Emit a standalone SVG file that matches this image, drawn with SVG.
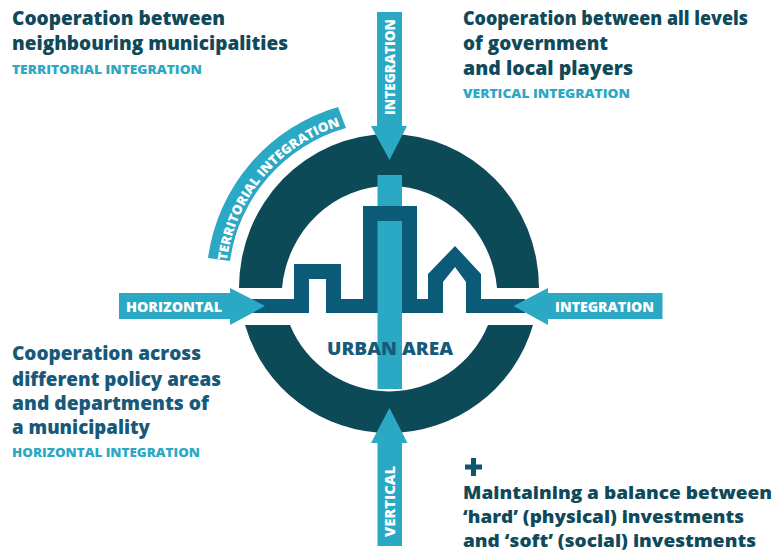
<svg xmlns="http://www.w3.org/2000/svg" width="772" height="552" viewBox="0 0 772 552">
<style>
.h{font-family:"Open Sans","Liberation Sans",sans-serif;font-weight:800;font-size:19px;fill:#0f4a5a}
.b{fill:#17597a}
.s{font-size:17.500px}
.t{font-family:"Open Sans","Liberation Sans",sans-serif;font-weight:800;font-size:12px;fill:#2aa8c4}
.w{font-family:"Open Sans","Liberation Sans",sans-serif;font-weight:800;font-size:14px;fill:#fff}
.arc{fill:#0d4a57}
.light{fill:#2aa8c4}
</style>
<defs>
<path id="curve" d="M226.500 263.500A164 164 0 0 1 343 125"/>
</defs>
<rect width="772" height="552" fill="#fff"/>
<g id="ring">
<path class="arc" d="M239 288A150 154 0 0 1 539 288L497 288A108 113 0 0 0 282 288Z"/>
<path class="arc" d="M245 325L290 325A107 107 0 0 0 488 325L533 325A150 150 0 0 1 245 325Z"/>
</g>
<g id="city">
<rect class="light" x="377.500" y="175" width="24.500" height="50"/>
<path fill="#0b5a78" d="M250 299H294V264H341V299H363V206H417V299H428V274L455 246L481 274V299H525V313H466V282L455 267L443 282V313H326V279H309V313H250Z"/>
<rect class="light" x="377.500" y="221" width="24.500" height="168"/>
<text x="390" y="355" text-anchor="middle" textLength="126" lengthAdjust="spacingAndGlyphs" style="font-family:'Open Sans','Liberation Sans',sans-serif;font-weight:800;font-size:18px;fill:#17597a">URBAN AREA</text>
</g>
<g id="territorial-band">
<path class="light" d="M208 258A183 183 0 0 1 338 107L346 128A161 161 0 0 0 230 261Z"/>
<text class="w" style="font-size:13px"><textPath href="#curve" startOffset="50%" text-anchor="middle" textLength="186" lengthAdjust="spacingAndGlyphs">TERRITORIAL INTEGRATION</textPath></text>
</g>
<g id="connectors">
<path id="arrow-top" class="light" d="M377 12H402V126H407L389.500 160L371 126H377Z"/>
<path id="arrow-bottom" class="light" d="M377.500 546H402V443H407.500L389.500 408L371 443H377.500Z"/>
<path id="arrow-left" class="light" d="M119 293H230V288L265 306L230 325V319H119Z"/>
<path id="arrow-right" class="light" d="M662.500 293H548V288L513.500 306L548 325V319H662.500Z"/>
</g>
<g id="arrow-labels">
<text class="w" x="126" y="312" textLength="96" lengthAdjust="spacingAndGlyphs">HORIZONTAL</text>
<text class="w" x="555" y="312" textLength="99" lengthAdjust="spacingAndGlyphs">INTEGRATION</text>
<text class="w" transform="translate(394.500 115) rotate(-90)" textLength="96" lengthAdjust="spacingAndGlyphs">INTEGRATION</text>
<text class="w" transform="translate(394.500 537) rotate(-90)" textLength="71" lengthAdjust="spacingAndGlyphs">VERTICAL</text>
</g>
<g id="territorial-text">
<text class="h" x="12" y="25" textLength="213" lengthAdjust="spacingAndGlyphs">Cooperation between</text>
<text class="h" x="12" y="50" textLength="276" lengthAdjust="spacingAndGlyphs">neighbouring municipalities</text>
<text class="t" x="12" y="74" textLength="190" lengthAdjust="spacingAndGlyphs">TERRITORIAL INTEGRATION</text>
</g>
<g id="vertical-text">
<text class="h" x="463" y="25" textLength="285" lengthAdjust="spacingAndGlyphs">Cooperation between all levels</text>
<text class="h" x="463" y="50" textLength="145" lengthAdjust="spacingAndGlyphs">of government</text>
<text class="h" x="463" y="75" textLength="170" lengthAdjust="spacingAndGlyphs">and local players</text>
<text class="t" x="463" y="98" textLength="167" lengthAdjust="spacingAndGlyphs">VERTICAL INTEGRATION</text>
</g>
<g id="horizontal-text">
<text class="h b" x="12" y="360" textLength="189" lengthAdjust="spacingAndGlyphs">Cooperation across</text>
<text class="h b" x="12" y="386" textLength="209" lengthAdjust="spacingAndGlyphs">different policy areas</text>
<text class="h b" x="12" y="410" textLength="197" lengthAdjust="spacingAndGlyphs">and departments of</text>
<text class="h b" x="12" y="434" textLength="138" lengthAdjust="spacingAndGlyphs">a municipality</text>
<text class="t" x="12" y="457" textLength="188" lengthAdjust="spacingAndGlyphs">HORIZONTAL INTEGRATION</text>
</g>
<g id="balance-text">
<path fill="#0f5570" d="M471 458H476V464.500H482V469.500H476V476H471V469.500H465V464.500H471Z"/>
<text class="h s" x="463" y="498.500" textLength="309" lengthAdjust="spacingAndGlyphs">Maintaining a balance between</text>
<text class="h s" x="463" y="522.500" textLength="281" lengthAdjust="spacingAndGlyphs">‘hard’ (physical) investments</text>
<text class="h s" x="463" y="546.500" textLength="293" lengthAdjust="spacingAndGlyphs">and ‘soft’ (social) investments</text>
</g>
</svg>
